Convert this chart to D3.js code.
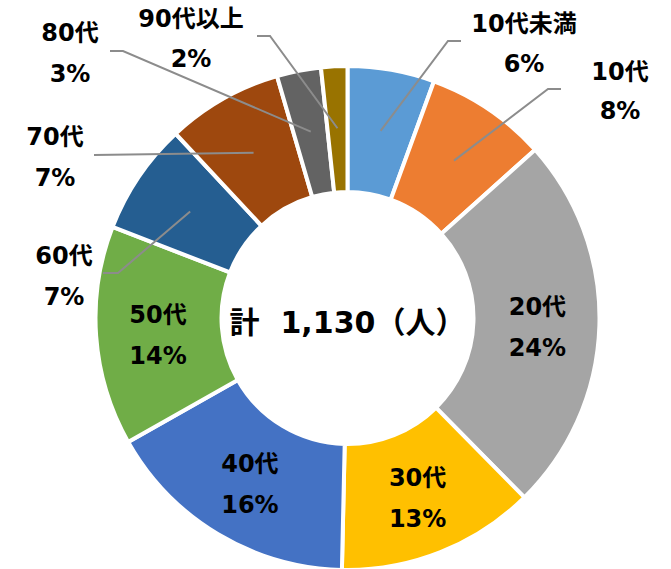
<!DOCTYPE html>
<html>
<head>
<meta charset="utf-8">
<script src="https://cdn.jsdelivr.net/npm/d3@7"></script>
<style>
  html, body { margin: 0; padding: 0; background: #fff; }
  svg { display: block; }
  text { font-family: "DejaVu Sans", "Noto Sans CJK JP", sans-serif; font-weight: bold; fill: #000; white-space: pre; }
</style>
</head>
<body>
<svg id="chart" width="671" height="569"></svg>
<script>
// ---- data ----
const categories = ["10代未満", "10代", "20代", "30代", "40代", "50代", "60代", "70代", "80代", "90代以上"];
const values     = [63, 88, 274, 144, 186, 159, 81, 84, 32, 19];
const colors     = ["#5B9BD5", "#ED7D31", "#A5A5A5", "#FFC000", "#4472C4", "#70AD47", "#255E91", "#9E480E", "#636363", "#997300"];
const totalLabel = "計  1,130（人）";

// ---- layout (label placement for outside labels) ----
const outsideLayout = {
  "10代未満": { x: 524, y1: 32, y2: 72, path: [[448, 41], [461, 41]] },
  "10代":     { x: 620, y1: 80, y2: 119, path: [[548, 89], [561, 89]] },
  "60代":     { x: 64,  y1: 264, y2: 305, path: [[118, 273], [103, 273]] },
  "70代":     { x: 55,  y1: 145, y2: 186, path: [[94, 155]] },
  "80代":     { x: 70,  y1: 41, y2: 82, path: [[123, 51], [110, 51]] },
  "90代以上": { x: 191, y1: 27, y2: 67, path: [[270, 36], [257, 36]] }
};

const W = 671, H = 569;
const cx = 347.5, cy = 318;
const rOuter = 252, rInner = 126, strokeW = 4, labelR = 190;

const svg = d3.select("#chart");
const g = svg.append("g").attr("transform", `translate(${cx},${cy})`);

const total = d3.sum(values);
const data = categories.map((c, i) => ({ cat: c, value: values[i], color: colors[i] }));

const pie = d3.pie().value(d => d.value).sort(null).startAngle(0).endAngle(2 * Math.PI);
const arcs = pie(data);

const arc = d3.arc().innerRadius(rInner).outerRadius(rOuter);
const labelArc = d3.arc().innerRadius(labelR).outerRadius(labelR);

g.selectAll("path.slice")
  .data(arcs)
  .join("path")
  .attr("class", "slice")
  .attr("d", arc)
  .attr("fill", d => d.data.color)
  .attr("stroke", "#fff")
  .attr("stroke-width", strokeW)
  .attr("stroke-linejoin", "miter");

const pctFmt = v => Math.round(v / total * 100) + "%";

// leader lines
const line = d3.line();
arcs.forEach(a => {
  const lay = outsideLayout[a.data.cat];
  if (!lay) return;
  const c = labelArc.centroid(a);
  const pts = [[c[0] + cx, c[1] + cy]].concat(lay.path);
  svg.append("path")
    .attr("d", line(pts))
    .attr("fill", "none")
    .attr("stroke", "#8c8c8c")
    .attr("stroke-width", 2);
});

// labels
arcs.forEach(a => {
  const lay = outsideLayout[a.data.cat];
  let x, y1, y2;
  if (lay) {
    x = lay.x; y1 = lay.y1; y2 = lay.y2;
  } else {
    const c = labelArc.centroid(a);
    x = c[0] + cx; y1 = c[1] + cy - 9; y2 = c[1] + cy + 32;
  }
  svg.append("text").attr("x", x).attr("y", y1).attr("text-anchor", "middle")
    .attr("font-size", 24).text(a.data.cat);
  svg.append("text").attr("x", x).attr("y", y2).attr("text-anchor", "middle")
    .attr("font-size", 24).text(pctFmt(a.data.value));
});

// center total
svg.append("text")
  .attr("x", cx).attr("y", 333)
  .attr("text-anchor", "middle")
  .attr("font-size", 30)
  .text(totalLabel);
</script>
</body>
</html>
